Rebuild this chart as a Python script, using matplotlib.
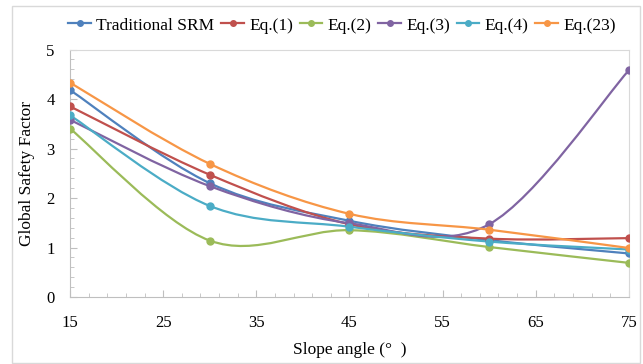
import matplotlib
matplotlib.use('Agg')
import matplotlib.pyplot as plt
from matplotlib.path import Path
from matplotlib.patches import PathPatch, Rectangle
from matplotlib.lines import Line2D
import numpy as np

plt.rcParams['font.family'] = ['Liberation Serif', 'DejaVu Serif']

# data
slope = [15, 30, 45, 60, 75]
srm = [4.18, 2.30, 1.54, 1.15, 0.88]
eq1 = [3.85, 2.47, 1.47, 1.18, 1.19]
eq2 = [3.40, 1.14, 1.35, 1.01, 0.69]
eq3 = [3.58, 2.24, 1.49, 1.47, 4.58]
eq4 = [3.67, 1.84, 1.42, 1.12, 0.96]
eq23 = [4.33, 2.69, 1.68, 1.36, 0.99]

labels = ['Traditional SRM', 'Eq.(1)', 'Eq.(2)', 'Eq.(3)', 'Eq.(4)', 'Eq.(23)']
colors = ['#4F81BD', '#C0504D', '#9BBB59', '#8064A2', '#4BACC6', '#F79646']
series = [srm, eq1, eq2, eq3, eq4, eq23]


def smooth_path(x, y):
    # excel-like smoothed line: cubic bezier with catmull-rom control points
    pts = np.column_stack([x, y]).astype(float)
    n = len(pts)
    verts = [pts[0]]
    codes = [Path.MOVETO]
    for i in range(n - 1):
        p0 = pts[max(i - 1, 0)]
        p1 = pts[i]
        p2 = pts[i + 1]
        p3 = pts[min(i + 2, n - 1)]
        c1 = p1 + (p2 - p0) / 6.0
        c2 = p2 - (p3 - p1) / 6.0
        verts += [c1, c2, p2]
        codes += [Path.CURVE4] * 3
    return Path(verts, codes)


fig = plt.figure(figsize=(6.43, 3.64), dpi=100)
ax = fig.add_axes([0.109, 0.184, 0.869, 0.68])

for vals, c in zip(series, colors):
    ax.add_patch(PathPatch(smooth_path(slope, vals), facecolor='none',
                           edgecolor=c, lw=1.6, zorder=2))
    ax.plot(slope, vals, 'o', color=c, ms=5, zorder=3)

ax.set_xlim(15, 75)
ax.set_ylim(0, 5)
ax.set_xticks(np.arange(15, 76, 10))
ax.set_xticks(np.arange(15, 76, 2), minor=True)
ax.set_yticks(np.arange(0, 6, 1))
ax.set_yticks(np.arange(0, 5.01, 0.2), minor=True)
ax.tick_params(which='both', direction='in', color='#BFBFBF', labelsize=12)
ax.tick_params(which='major', length=5)
ax.tick_params(which='minor', length=3)
ax.tick_params(axis='x', pad=13)
ax.tick_params(axis='y', pad=11)
for s in ax.spines.values():
    s.set_color('#D9D9D9')
ax.spines['left'].set_color('#BFBFBF')
ax.spines['bottom'].set_color('#BFBFBF')

ax.set_xlabel('Slope angle (°  )', fontsize=12.5, labelpad=8)
ax.set_ylabel('Global Safety Factor', fontsize=12.5, labelpad=8)

handles = [Line2D([0], [0], color=c, lw=1.6, marker='o', ms=4) for c in colors]
fig.legend(handles, labels, loc='center', bbox_to_anchor=(0.532, 0.93), ncol=6,
           frameon=False, fontsize=12.5, handlelength=1.3, handletextpad=0.3,
           columnspacing=0.4)

fig.patches.append(Rectangle((12 / 643, 1 / 364), 628 / 643, 357 / 364,
                             transform=fig.transFigure, fill=False,
                             edgecolor='#D9D9D9', lw=1))

plt.savefig('out.png', dpi=100)
